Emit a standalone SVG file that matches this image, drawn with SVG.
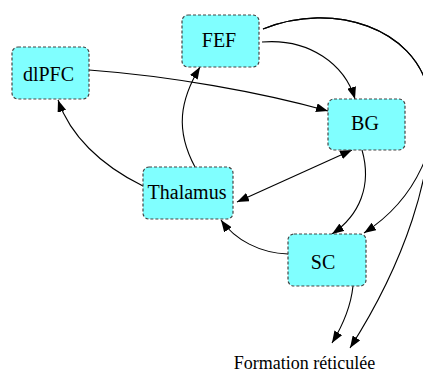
<svg xmlns="http://www.w3.org/2000/svg" width="423" height="373" viewBox="0 0 423 373">
<style>
.node rect{fill:#80ffff;stroke:#444;stroke-width:1.2;stroke-dasharray:3,2}
.node text{font-family:'Liberation Serif',serif;font-size:20px;text-anchor:middle;fill:#000}
.edges path{fill:none;stroke:#000;stroke-width:1.1;marker-end:url(#ah)}
.lbl{font-family:'Liberation Serif',serif;font-size:18px;text-anchor:middle;fill:#000}
</style>
<defs>
<marker id="ah" markerUnits="userSpaceOnUse" markerWidth="12" markerHeight="9" refX="12" refY="4.5" orient="auto-start-reverse">
<path d="M0,0 L12,4.5 L0,9 z" fill="#000"/>
</marker>
</defs>
<rect width="423" height="373" fill="#fff"/>
<g class="edges">
<path d="M89,70 C170,76 260,92 328,111"/>
<path d="M262,42 C310,38 345,65 355,99"/>
<path d="M263,29 C335,0 415,30 428,90 C445,140 415,200 364,233"/>
<path d="M263,29 C335,0 415,30 428,90 C440,170 400,270 350,348"/>
<path d="M143,186 C100,165 70,135 58,100"/>
<path d="M195,167 C175,130 180,100 200,67"/>
<path d="M352,150 L237,202" style="marker-start:url(#ah)"/>
<path d="M362,150 C372,185 360,215 332,234"/>
<path d="M288,254 C260,253 235,240 221,220"/>
<path d="M353,286 C351,305 343,325 332,343"/>
</g>
<g id="dlPFC" class="node"><rect x="12" y="47" width="77" height="52" rx="6"/><text x="48.5" y="81">dlPFC</text></g>
<g id="FEF" class="node"><rect x="182" y="15" width="77" height="52" rx="6"/><text x="219" y="47">FEF</text></g>
<g id="BG" class="node"><rect x="328" y="99" width="77" height="51" rx="6"/><text x="365" y="130">BG</text></g>
<g id="Thalamus" class="node"><rect x="143" y="167" width="90" height="52" rx="6"/><text x="187" y="199">Thalamus</text></g>
<g id="SC" class="node"><rect x="288" y="234" width="78" height="52" rx="6"/><text x="323" y="269">SC</text></g>
<g id="Formation"><text class="lbl" x="304.5" y="369">Formation réticulée</text></g>
</svg>
